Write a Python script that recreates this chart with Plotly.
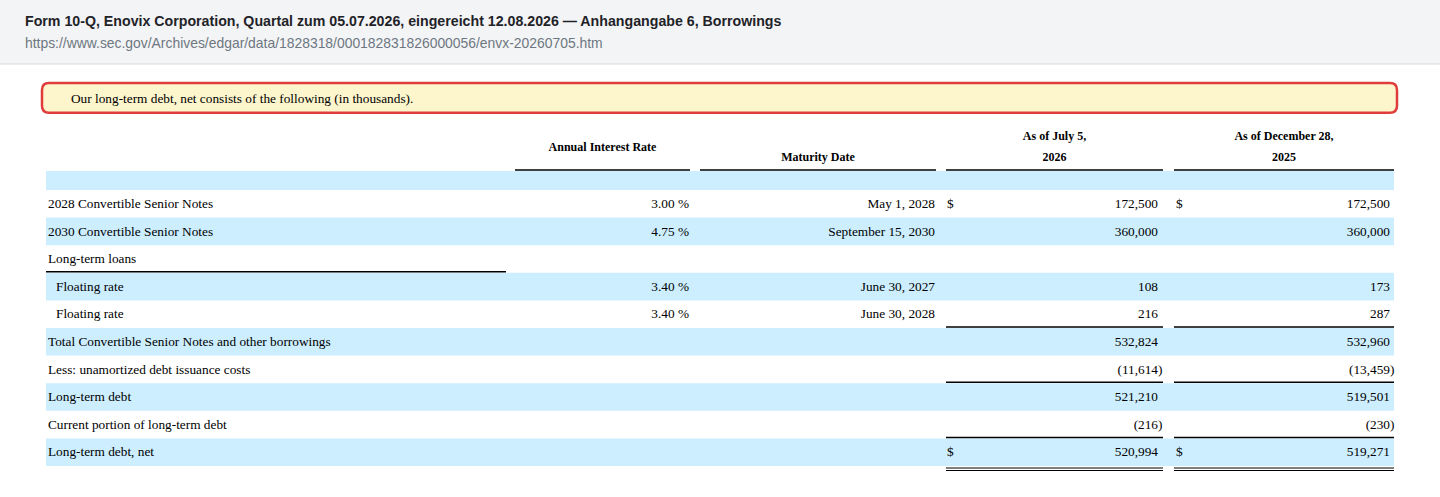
import plotly.graph_objects as go

# ---- table contents (amounts in thousands) ----
row_labels = [
    "2028 Convertible Senior Notes",
    "2030 Convertible Senior Notes",
    "Long-term loans",
    "Floating rate",
    "Floating rate",
    "Total Convertible Senior Notes and other borrowings",
    "Less: unamortized debt issuance costs",
    "Long-term debt",
    "Current portion of long-term debt",
    "Long-term debt, net",
]
interest_rates = ["3.00 %", "4.75 %", "", "3.40 %", "3.40 %", "", "", "", "", ""]
maturity_dates = ["May 1, 2028", "September 15, 2030", "", "June 30, 2027",
                  "June 30, 2028", "", "", "", "", ""]
as_of_jul_2026 = [172500, 360000, None, 108, 216, 532824, -11614, 521210, -216, 520994]
as_of_dec_2025 = [172500, 360000, None, 173, 287, 532960, -13459, 519501, -230, 519271]
dollar_sign_rows = [0, 9]

hdr_upper = ["", "", "As of July 5,", "As of December 28,"]
hdr_lower = ["Annual Interest Rate", "Maturity Date", "2026", "2025"]

title = ("Form 10-Q, Enovix Corporation, Quartal zum 05.07.2026, eingereicht 12.08.2026"
         " \u2014 Anhangangabe 6, Borrowings")
source_url = "https://www.sec.gov/Archives/edgar/data/1828318/000182831826000056/envx-20260705.htm"
intro = "Our long-term debt, net consists of the following (in thousands)."

# ---- layout / style ----
W, H = 1440, 497
SERIF = "Liberation Serif"
SANS = "Liberation Sans"
BAND = "#cceeff"
TABLE_L, TABLE_R = 46, 1394
ROW_TOP, ROW_H = 190, 27.6
TEXT_DY = 0.8
COL_SPANS = [(515, 690), (700, 936), (946, 1163), (1174, 1394)]
LABEL_X, INDENT = 48, 8
RATE_R, MAT_R = 689, 935
AMT_R = [1158, 1390]
DOLLAR_X = [947, 1176]
indent_rows = [3, 4]
rule_after = {2: "label", 4: "single", 6: "single", 8: "single", 9: "double"}

n = len(row_labels)
row_mid = [ROW_TOP + (i + 0.5) * ROW_H + TEXT_DY for i in range(n)]


def row_bottom(i):
    return ROW_TOP + (i + 1) * ROW_H


def fmt(v):
    if v is None:
        return ""
    return f"({-v:,}" if v < 0 else f"{v:,}"


def rounded_rect(x0, y0, x1, y1, r):
    return (f"M{x0 + r},{y0} L{x1 - r},{y0} Q{x1},{y0} {x1},{y0 + r} "
            f"L{x1},{y1 - r} Q{x1},{y1} {x1 - r},{y1} L{x0 + r},{y1} "
            f"Q{x0},{y1} {x0},{y1 - r} L{x0},{y0 + r} Q{x0},{y0} {x0 + r},{y0} Z")


fig = go.Figure()
body_font = dict(family=SERIF, size=13.3, color="#000")


def add_text(xs, ys, texts, pos, font):
    fig.add_trace(go.Scatter(x=xs, y=ys, text=texts, mode="text", textposition=pos,
                             textfont=font, hoverinfo="skip", showlegend=False))


# row labels
add_text([LABEL_X + (INDENT if i in indent_rows else 0) for i in range(n)], row_mid,
         row_labels, "middle right", body_font)
# rates and maturity dates
add_text([RATE_R] * n, row_mid, interest_rates, "middle left", body_font)
add_text([MAT_R] * n, row_mid, maturity_dates, "middle left", body_font)
# amounts
for k, series in enumerate([as_of_jul_2026, as_of_dec_2025]):
    add_text([AMT_R[k]] * n, row_mid, [fmt(v) for v in series], "middle left", body_font)
    neg = [i for i, v in enumerate(series) if v is not None and v < 0]
    add_text([AMT_R[k]] * len(neg), [row_mid[i] for i in neg], [")"] * len(neg),
             "middle right", body_font)
    add_text([DOLLAR_X[k]] * len(dollar_sign_rows), [row_mid[i] for i in dollar_sign_rows],
             ["$"] * len(dollar_sign_rows), "middle right", body_font)

# column headers
hdr_font = dict(family=SERIF, size=12, color="#000", weight="bold")
centers = [(a + b) / 2 for a, b in COL_SPANS]
add_text(centers, [137] * 4, hdr_upper, "middle center", hdr_font)
add_text(centers, [147.7, 158, 158, 158], hdr_lower, "middle center", hdr_font)

# ---- shapes: page header, intro box, bands and rules ----
shapes = [
    dict(type="rect", x0=0, x1=W, y0=0, y1=64, fillcolor="#f3f4f6", line_width=0, layer="below"),
    dict(type="line", x0=0, x1=W, y0=64, y1=64, line=dict(color="#d5dbe2", width=1)),
    dict(type="path", path=rounded_rect(42, 83, 1397, 112.7, 7), fillcolor="#fdf6cd",
         line=dict(color="#e03c3c", width=2.5), layer="below"),
    dict(type="rect", x0=TABLE_L, x1=TABLE_R, y0=171, y1=ROW_TOP, fillcolor=BAND,
         line_width=0, layer="below"),
]
for i in range(1, n, 2):
    shapes.append(dict(type="rect", x0=TABLE_L, x1=TABLE_R, y0=ROW_TOP + i * ROW_H,
                       y1=row_bottom(i), fillcolor=BAND, line_width=0, layer="below"))
for a, b in COL_SPANS:
    shapes.append(dict(type="line", x0=a, x1=b, y0=170, y1=170, line=dict(color="#000", width=1.5)))
for i, kind in rule_after.items():
    yb = row_bottom(i) - 1
    if kind == "label":
        shapes.append(dict(type="line", x0=TABLE_L, x1=506, y0=yb, y1=yb,
                           line=dict(color="#000", width=1.5)))
        continue
    for a, b in COL_SPANS[2:]:
        if kind == "single":
            shapes.append(dict(type="line", x0=a, x1=b, y0=yb, y1=yb,
                               line=dict(color="#000", width=1.5)))
        else:
            for yy in (yb + 3, yb + 5.5):
                shapes.append(dict(type="line", x0=a, x1=b, y0=yy, y1=yy,
                                   line=dict(color="#000", width=1)))

annotations = [
    dict(x=23, y=21, text=title, showarrow=False, xanchor="left", yanchor="middle",
         font=dict(family=SANS, size=14.2, color="#1f2328", weight="bold")),
    dict(x=23, y=43, text=source_url, showarrow=False, xanchor="left", yanchor="middle",
         font=dict(family=SANS, size=13.9, color="#6e7781")),
    dict(x=69, y=98, text=intro, showarrow=False, xanchor="left", yanchor="middle",
         font=dict(family=SERIF, size=13.3, color="#000")),
]

fig.update_layout(
    width=W, height=H,
    margin=dict(l=0, r=0, t=0, b=0),
    paper_bgcolor="white", plot_bgcolor="white",
    xaxis=dict(range=[0, W], visible=False, fixedrange=True),
    yaxis=dict(range=[H, 0], visible=False, fixedrange=True),
    shapes=shapes, annotations=annotations,
)

fig.write_html("out.html", config={"displayModeBar": False},
               post_script="document.body.style.margin='0';")
